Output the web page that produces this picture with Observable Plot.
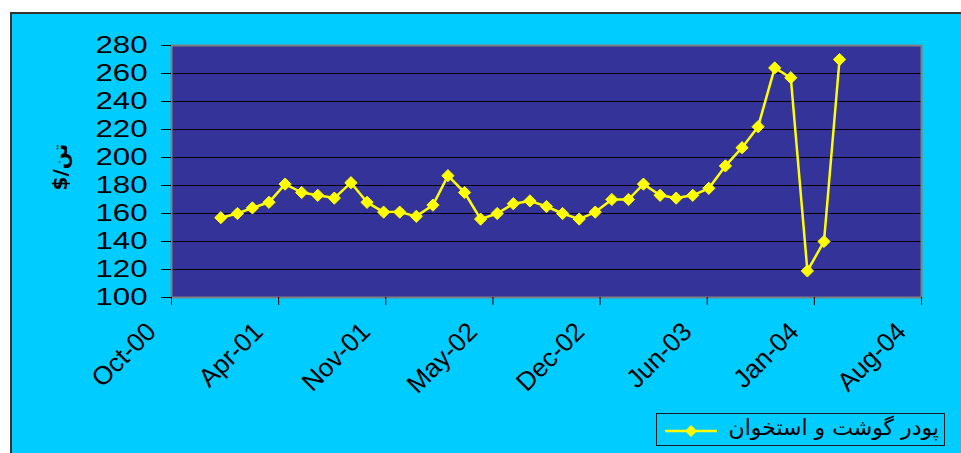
<!DOCTYPE html>
<html>
<head>
<meta charset="utf-8">
<script src="https://cdn.jsdelivr.net/npm/d3@7"></script>
<script src="https://cdn.jsdelivr.net/npm/@observablehq/plot@0.6"></script>
<style>
  html, body { margin: 0; padding: 0; background: #ffffff; width: 961px; height: 453px; overflow: hidden; }
  #bg { position: absolute; left: 10px; top: 12px; width: 970px; height: 460px; background: #00CCFF; border-top: 2px solid #333; border-left: 2px solid #333; box-sizing: border-box; }
  #chart { position: absolute; left: 0; top: 0; }
  #legend { position: absolute; left: 656px; top: 413px; width: 289px; height: 33px; border: 1px solid #1a1a1a; box-sizing: border-box; }
  #legend svg { position: absolute; left: 6px; top: 9px; }
  #legend span { position: absolute; right: 5px; top: 1px; font-family: "DejaVu Sans", sans-serif; font-size: 22px; color: #000; direction: rtl; white-space: nowrap; }
</style>
</head>
<body>
<div id="bg"></div>
<div id="chart"></div>
<div id="legend"><svg width="56" height="16"><line x1="2" y1="8" x2="54" y2="8" stroke="#FFFF00" stroke-width="2.5"/><path d="M28,2 L34,8 L28,14 L22,8 Z" fill="#FFFF00"/></svg><span id="legtext"></span></div>
<script>
// ---- data ----
const seriesName = "پودر گوشت و استخوان";
const yLabel = "$/تن";
const firstMonth = "2001-01-01";
const prices = [157,160,164,168,181,175,173,171,182,168,
                161,161,158,166,187,175,156,160,167,169,
                165,160,156,161,170,170,181,173,171,173,
                178,194,207,222,264,257,119,140,270];
const xTickDates = ["2000-10-01","2001-04-19","2001-11-05","2002-05-24","2002-12-10","2003-06-28","2004-01-14","2004-08-01"];
const yTicks = [100,120,140,160,180,200,220,240,260,280];

const start = new Date(firstMonth);
const data = prices.map((v, i) => ({date: d3.utcMonth.offset(start, i), value: v}));
const xTicks = xTickDates.map(s => new Date(s));
const fmt = d3.utcFormat("%b-%y");

document.getElementById("legtext").textContent = seriesName;

const chart = Plot.plot({
  width: 961,
  height: 453,
  marginLeft: 171,
  marginRight: 40,
  marginTop: 45,
  marginBottom: 156,
  style: {background: "transparent", fontFamily: "'Liberation Sans', Arial, sans-serif", overflow: "visible"},
  x: {type: "utc", domain: [xTicks[0], xTicks[xTicks.length - 1]]},
  y: {domain: [100, 280]},
  marks: [
    Plot.frame({fill: "#333399"}),
    Plot.ruleY(yTicks, {stroke: "#000", strokeWidth: 1}),
    Plot.frame({stroke: "#808080", strokeWidth: 2}),
    Plot.axisY({ticks: yTicks, tickSize: 10, tickPadding: 14, fontSize: 24, label: null, stroke: "#000", color: "#000"}),
    Plot.axisX({ticks: xTicks, tickFormat: () => "", tickSize: 8, label: null, stroke: "#000"}),
    Plot.axisX({ticks: xTicks, tickFormat: fmt, tickSize: 0, tickPadding: 12, tickRotate: -45, fontSize: 26, label: null, color: "#000", dx: -20, dy: 18}),
    Plot.text([yLabel], {frameAnchor: "left", rotate: -90, textAnchor: "start", dx: -111, dy: 19, fontWeight: "bold", fontSize: 20, fill: "#000", fontFamily: "'DejaVu Sans', sans-serif"}),
    Plot.line(data, {x: "date", y: "value", stroke: "#FFFF00", strokeWidth: 2.5}),
    Plot.dot(data, {x: "date", y: "value", symbol: "diamond2", r: 5.5, fill: "#FFFF00", stroke: "#FFFF00", strokeWidth: 1})
  ]
});
// widen the y tick labels horizontally, like the stretched original
d3.select(chart).selectAll('g[aria-label="y-axis tick label"] text').each(function() {
  const t = this.getAttribute("transform") || "";
  this.setAttribute("transform", t + " scale(1.3,1)");
});
document.getElementById("chart").appendChild(chart);
</script>
</body>
</html>
